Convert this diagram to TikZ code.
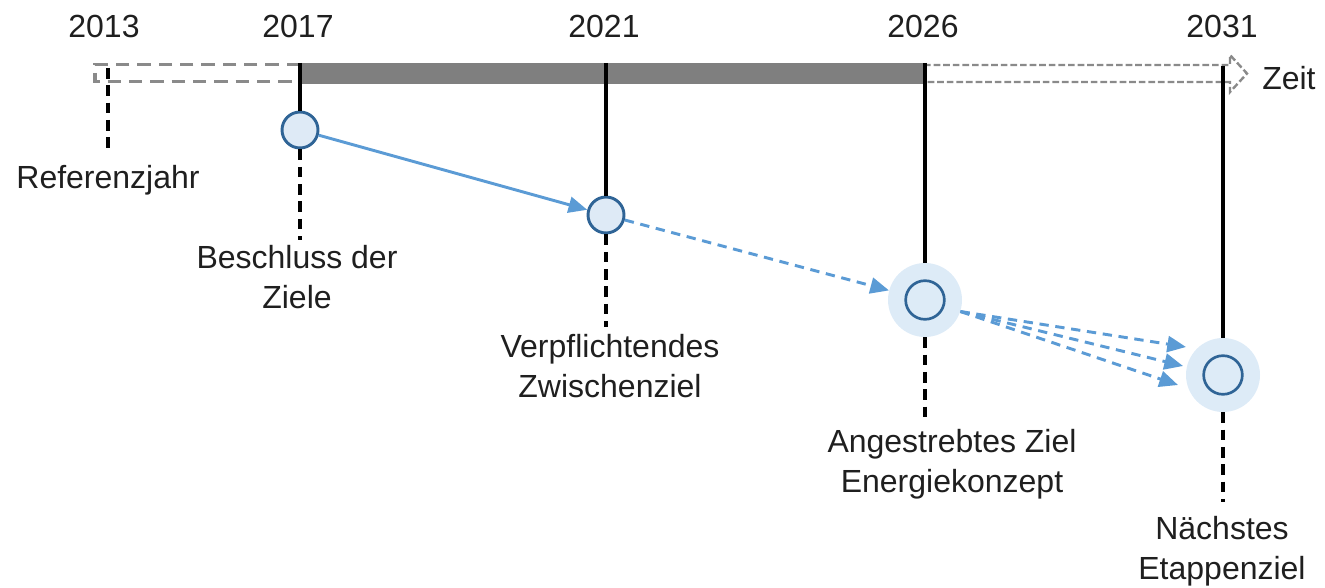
\documentclass[tikz,border=0pt]{standalone}
\usepackage{fontspec}
\setmainfont{Liberation Sans}
\usetikzlibrary{arrows.meta}
\definecolor{barg}{HTML}{7F7F7F}
\definecolor{dashg}{HTML}{8A8A8A}
\definecolor{arrowblue}{HTML}{5B9BD5}
\definecolor{ringblue}{HTML}{2F6496}
\definecolor{fillblue}{HTML}{DEEAF6}
\definecolor{halofill}{HTML}{DDEBF7}
\begin{document}
\begin{tikzpicture}[x=0.75pt,y=-0.75pt,
  txt/.style={font=\fontsize{24}{30}\selectfont, inner sep=0pt, text=black!88},
  yearlbl/.style={txt, anchor=base},
  desc/.style={txt, align=center, anchor=north},
  ms/.style={circle, draw=ringblue, fill=fillblue, line width=2.2pt, minimum size=27pt, inner sep=0pt},
  halo/.style={circle, fill=halofill, minimum size=55.5pt, inner sep=0pt},
  ringst/.style={draw=ringblue, line width=2pt},
  tick/.style={line width=2.4pt, black},
  dtick/.style={line width=2.8pt, black, dash pattern=on 8pt off 5pt},
  flow/.style={arrowblue, line width=2.2pt, -{Triangle[length=14pt,width=12pt]}},
  dflow/.style={flow, dash pattern=on 7pt off 5pt},
]
\useasboundingbox (0,0) rectangle (1325,588);

% time bar
\fill[barg] (300,63) rectangle (924,84);
\draw[dashg, line width=2.7pt, dash pattern=on 10pt off 6pt] (300,64.5) -- (95,64.5) -- (95,81.5) -- (300,81.5);
\draw[dashg, line width=1.8pt, dash pattern=on 5pt off 2.2pt]
  (924,65) -- (1230,65) -- (1230,55) -- (1247,73.5) -- (1230,92) -- (1230,82) -- (924,82);

% years
\node[yearlbl] (y13) at (104,38) {2013};
\node[yearlbl] (y17) at (298,38) {2017};
\node[yearlbl] (y21) at (604,38) {2021};
\node[yearlbl] (y26) at (923,38) {2026};
\node[yearlbl] (y31) at (1222,38) {2031};
\node[txt, anchor=base west] (zeit) at (1262,90) {Zeit};

% milestones
\node[ms] (c17) at (300,130) {};
\node[ms] (c21) at (606,215) {};
\node[halo] (c26) at (925,300) {};
\node[halo] (c31) at (1223,375) {};
\draw[ringst] (c26.center) circle[radius=14.5pt];
\draw[ringst] (c31.center) circle[radius=14.5pt];

% bar anchors and dashed ends
\coordinate (b13) at (108,68);
\coordinate (e13) at (108,152);
\coordinate (b17) at (300,63);
\coordinate (b21) at (606,63);
\coordinate (b26) at (925,63);
\coordinate (b31) at (1223,66);
\coordinate (e17) at (300,240);
\coordinate (e21) at (606,327);
\coordinate (e26) at (925,422);
\coordinate (e31) at (1223,502);

\draw[dtick] (b13) -- (e13);
\draw[tick] (b17) -- (c17);
\draw[tick] (b21) -- (c21);
\draw[tick] (b26) -- (c26);
\draw[tick] (b31) -- (c31);
\draw[dtick] (c17) -- (e17);
\draw[dtick] (c21) -- (e21);
\draw[dtick] (c26) -- (e26);
\draw[dtick] (c31) -- (e31);

% labels
\node[yearlbl] (lref) at (108,189) {Referenzjahr};
\node[desc] (l17) at (297,245) {Beschluss der\\Ziele};
\node[desc] (l21) at (610,334) {Verpflichtendes\\Zwischenziel};
\node[desc] (l26) at (952,429) {Angestrebtes Ziel\\Energiekonzept};
\node[desc] (l31) at (1222,516) {Nächstes\\Etappenziel};

% flows
\draw[flow] (c17) -- (c21);
\draw[dflow] (c21) -- (c26);
\coordinate (t1) at (1186,347);
\coordinate (t2) at (1183,366);
\coordinate (t3) at (1178,385);
\draw[dflow] (c26.-18) -- (t1);
\draw[dflow] (c26.-18) -- (t2);
\draw[dflow] (c26.-18) -- (t3);
\end{tikzpicture}
\end{document}
